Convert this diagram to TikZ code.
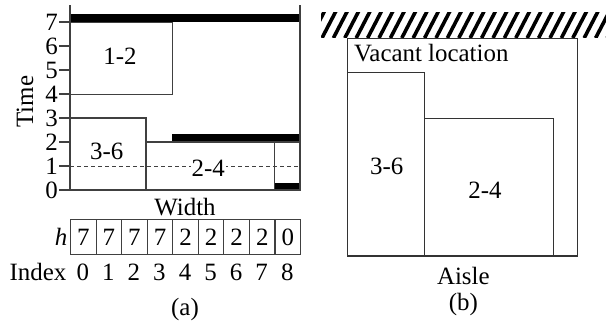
\documentclass[tikz,border=0pt]{standalone}
\usepackage{fontspec}
\setmainfont{Liberation Serif}
\begin{document}
\begin{tikzpicture}[x=1bp,y=-1bp,
  every node/.style={inner sep=0pt,font=\fontsize{25}{30}\selectfont},
  edge/.style={draw=black!75,line width=1.1bp},
  edgeb/.style={draw=black!80,line width=1.5bp},
  bar/.style={fill=black},
  cellbox/.style={draw=black!75,line width=1.1bp,minimum width=25.56bp,minimum height=35bp,anchor=north west}]
\useasboundingbox (0,0) rectangle (606,325);

% ---------- (a) skyline of the storage area ----------
% dashed reference level at time 1
\draw[black!75,line width=1bp,dash pattern=on 4bp off 3bp] (70,166.7) -- (300,166.7);
% occupied heights
\fill[bar] (70,14) rectangle (300,22.3);
\fill[bar] (172.3,134.3) rectangle (300,142);
\fill[bar] (274.3,182.5) rectangle (300,190);
% stacked boxes
\draw[edge] (70,22.3) rectangle (172.3,94.3);
\draw[edge] (70,118) rectangle (146,190);
\draw[edge] (146,142) rectangle (274.3,190);
\draw[edge] (274.3,142) rectangle (300,190);
% axes
\draw[edge] (70,5) -- (70,190);
\draw[edge] (300,5) -- (300,190);
\draw[edge] (59,190) -- (300,190);
\foreach \t in {0,...,7}{
  \draw[edge] (59,{190-24*\t}) -- (70,{190-24*\t});
  \node (tick\t) at (51.5,{190-24*\t}) {\t};
}
\node[rotate=90] (timelbl) at (25,101.7) {Time};
\node (widthlbl) at (185,207) {Width};
\node (lbl12) at (120,56) {1-2};
\node (lbl36) at (106.7,151.7) {3-6};
\node[fill=white,inner xsep=1bp] (lbl24) at (208.3,168) {2-4};

% height array and indices
\node[font=\fontsize{25}{30}\selectfont\itshape] (hlbl) at (61,237) {h};
\node (idxlbl) at (38,272) {Index};
\foreach \v [count=\i from 0] in {7,7,7,7,2,2,2,2,0}{
  \node[cellbox] (cell\i) at ({70+25.556*\i},219.3) {};
  \node (val\i) at (cell\i.center) {\v};
  \node (idx\i) at ({70+25.556*\i+12.78},272) {\i};
}
\node (capa) at (185,310) {(a)};

% ---------- (b) rack seen from the aisle ----------
\begin{scope}
  \clip (321,12) rectangle (606,37);
  \foreach \k in {-1,...,26}{
    \draw[line width=3.6bp] ({322+11.4*\k},38) -- ({322+11.4*\k+14},11);
  }
\end{scope}
\draw[edgeb] (347.7,38.3) rectangle (577.7,256);
\draw[edgeb] (347.7,72.7) rectangle (424.3,256);
\draw[edgeb] (424.3,118.3) rectangle (553.3,256);
\node[anchor=west] (vacant) at (354,53.5) {Vacant location};
\node (lblb36) at (386.7,166.7) {3-6};
\node (lblb24) at (485,190) {2-4};
\node (aisle) at (463.3,276) {Aisle};
\node (capb) at (463.3,304.5) {(b)};
\end{tikzpicture}
\end{document}
